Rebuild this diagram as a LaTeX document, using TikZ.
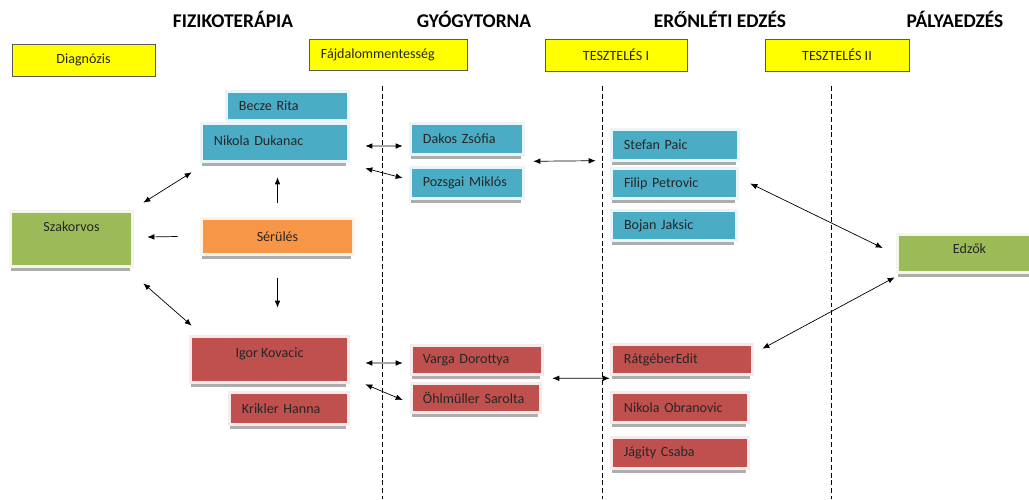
\documentclass[tikz,border=0pt]{standalone}
\usepackage{fontspec}
\setmainfont{Carlito}
\usetikzlibrary{calc,shadows,arrows.meta}
\definecolor{kek}{HTML}{4BACC6}
\definecolor{piros}{HTML}{C0504D}
\definecolor{zold}{HTML}{9BBB59}
\definecolor{narancs}{HTML}{F79646}
\definecolor{sarga}{HTML}{FFFF00}
\tikzset{
	kartya/.style={fill=#1, inner sep=0pt, text=black!85,
		drop shadow={shadow xshift=-0.4pt, shadow yshift=-4pt, opacity=1, fill=black!32},
		preaction={draw=#1!12!white, line width=4.2pt}},
	cimke/.style={fill=sarga, draw=black!65, line width=0.6pt, inner sep=0pt, text=black!85,
		drop shadow={shadow xshift=0.8pt, shadow yshift=-0.8pt, opacity=1, fill=black!20}},
	balra/.style={text width=#1, inner xsep=0.275cm,
		execute at begin node={\hbox\bgroup}, execute at end node={\egroup}},
	fent/.style={text height=7.4pt, text depth=#1},
	fejlec/.style={font=\bfseries\fontsize{13.8}{16}\selectfont},
	szaggatott/.style={dash pattern=on 3.5pt off 2pt, line width=0.7pt},
	nyil/.style={line width=0.5pt}
}
\begin{document}
\begin{tikzpicture}[x=0.025cm, y=-0.025cm, >={Latex[length=5pt,width=4pt]},
	every node/.style={font=\fontsize{10}{12}\selectfont}]
	\path[use as bounding box, clip] (0,0) rectangle (1029,499);
	%%% Fejlec
	\node[fejlec] (fiz) at (233,19) {FIZIKOTERÁPIA};
	\node[fejlec] (gyogy) at (474,19) {GYÓGYTORNA};
	\node[fejlec] (eron) at (720,19) {ERŐNLÉTI EDZÉS};
	\node[fejlec] (palya) at (955,19) {PÁLYAEDZÉS};
	%%% Sarga cimkek
	\node[cimke, minimum width=3.575cm, minimum height=0.8cm] (diag) at (83.5,60) {Diagnózis};
	\node[cimke, balra=3.35cm, inner xsep=0.3cm, minimum height=0.775cm] (fajd) at (388,54.5) {Fájdalommentesség};
	\node[cimke, minimum width=3.55cm, minimum height=0.8cm] (teszt1) at (616,55) {TESZTELÉS I};
	\node[cimke, minimum width=3.6cm, minimum height=0.8cm] (teszt2) at (837,55) {TESZTELÉS II};
	%%% Szaggatott vonalak
	\draw[szaggatott] (382,86) -- (382,499);
	\draw[szaggatott] (602,86) -- (602,499);
	\draw[szaggatott] (831,86) -- (831,499);
	%%% Fizikoterapia
	\node[kartya=kek, balra=2.425cm, minimum height=0.65cm] (becze) at (287.5,106) {Becze Rita};
	\node[kartya=kek, balra=3.05cm, minimum height=0.875cm, fent=3.6pt] (duk) at (275,142.5) {Nikola Dukanac};
	\node[kartya=narancs, minimum width=3.725cm, minimum height=0.825cm] (ser) at (277.5,236.5) {Sérülés};
	\node[kartya=piros, minimum width=3.875cm, minimum height=1.075cm, fent=10pt] (igor) at (269.5,359.5) {Igor Kovacic};
	\node[kartya=piros, balra=2.35cm, minimum height=0.725cm] (krik) at (289,408.5) {Krikler Hanna};
	\node[kartya=zold, minimum width=2.975cm, minimum height=1.3cm, fent=17.8pt] (szak) at (71.5,239) {Szakorvos};
	%%% Gyogytorna
	\node[kartya=kek, balra=2.2cm, minimum height=0.7cm] (dakos) at (467,139) {Dakos Zsófia};
	\node[kartya=kek, balra=2.2cm, minimum height=0.7cm] (pozs) at (467,183) {Pozsgai Miklós};
	\node[kartya=piros, balra=2.7cm, inner xsep=0.25cm, minimum height=0.65cm] (varga) at (477,360) {Varga Dorottya};
	\node[kartya=piros, balra=2.65cm, inner xsep=0.25cm, minimum height=0.65cm] (ohl) at (476,398) {Öhlmüller Sarolta};
	%%% Eronleti edzes
	\node[kartya=kek, balra=2.55cm, minimum height=0.7cm] (stef) at (675,145) {Stefan Paic};
	\node[kartya=kek, balra=2.525cm, minimum height=0.675cm] (filip) at (674.5,183.5) {Filip Petrovic};
	\node[kartya=kek, balra=2.5cm, minimum height=0.675cm] (bojan) at (674,225.5) {Bojan Jaksic};
	\node[kartya=piros, balra=2.9cm, minimum height=0.675cm] (ratg) at (682,359.5) {RátgéberEdit};
	\node[kartya=piros, balra=2.8cm, minimum height=0.675cm] (obra) at (680,407.5) {Nikola Obranovic};
	\node[kartya=piros, balra=2.8cm, minimum height=0.7cm] (jagi) at (680,453) {Jágity Csaba};
	%%% Palyaedzes
	\node[kartya=zold, minimum width=3.525cm, minimum height=0.875cm, fent=7.2pt] (edzo) at (969.5,253.5) {Edzők};
	%%% Nyilak
	\draw[nyil, ->] ($(ser.west)+(-25,0)$) -- ($(szak.east)+(16,-2)$);
	\draw[nyil, ->] ($(ser.north)+(0,-17)$) -- ($(duk.south)+(2.5,17)$);
	\draw[nyil, ->] ($(ser.south)+(0,25)$) -- ($(igor.north)+(8,-30)$);
	\draw[nyil, <->] ($(szak.north east)+(12,-10)$) -- ($(duk.south west)+(-11,12)$);
	\draw[nyil, <->] ($(szak.south east)+(12,18)$) -- ($(igor.north west)+(0,-12)$);
	\draw[nyil, <->] ($(duk.east)+(18,3.5)$) -- ($(dakos.west)+(-9,7)$);
	\draw[nyil, <->] ($(duk.south east)+(18,8)$) -- ($(pozs.west)+(-9,-5)$);
	\draw[nyil, <->] ($(igor.east)+(18,3.5)$) -- ($(varga.west)+(-10,3)$);
	\draw[nyil, <->] ($(igor.south east)+(18,3)$) -- ($(ohl.west)+(-10,2)$);
	\draw[nyil, <->] ($(dakos.south east)+(11,8)$) -- ($(filip.north west)+(-17,-9)$);
	\draw[nyil, <->] ($(varga.south east)+(11,5)$) -- ($(ratg.south west)+(-3,5)$);
	\draw[nyil, <->] ($(filip.east)+(14,0)$) -- ($(edzo.west)+(-16,-5.5)$);
	\draw[nyil, <->] ($(edzo.south west)+(-4,6)$) -- ($(ratg.north east)+(11,3)$);
\end{tikzpicture}
\end{document}
